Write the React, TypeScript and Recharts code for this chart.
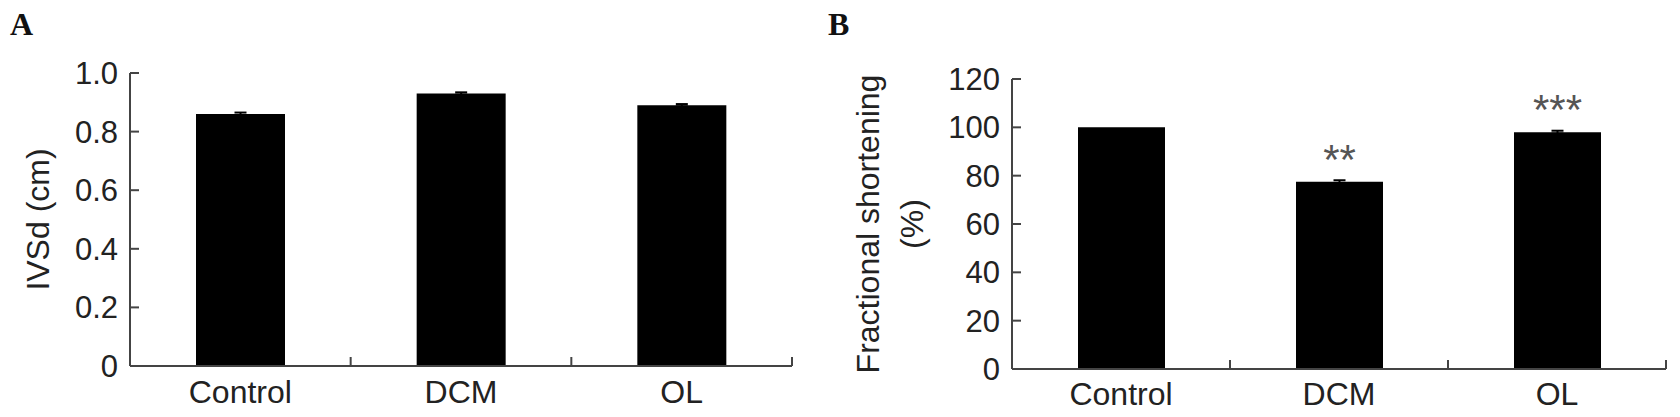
import React from 'react';
import { BarChart, Bar, XAxis, YAxis, ErrorBar, LabelList } from 'recharts';

const categories = ['Control', 'DCM', 'OL'];
const ivsdValues = [0.86, 0.93, 0.89];
const ivsdErrors = [0.005, 0.004, 0.004];
const fsValues = [100, 77.5, 98];
const fsErrors = [0, 0.6, 0.6];
const fsSignificance = ['', '**', '***'];
const ivsdTicks = [0, 0.2, 0.4, 0.6, 0.8, 1.0];
const fsTicks = [0, 20, 40, 60, 80, 100, 120];

const dataA = categories.map((c, i) => ({ name: c, value: ivsdValues[i], err: ivsdErrors[i] }));
const dataB = categories.map((c, i) => ({ name: c, value: fsValues[i], err: fsErrors[i], sig: fsSignificance[i] }));

const FONT = '"Liberation Sans", Arial, sans-serif';
const AXIS = '#444';

const makeYTick = (fmt: (v: number) => string) => (props: any) => {
  const { x, y, payload } = props;
  return (
    <g>
      <line x1={x + 12} x2={x + 21} y1={y} y2={y} stroke={AXIS} strokeWidth={2} />
      <text x={x} y={y} dy="0.355em" textAnchor="end" fontFamily={FONT} fontSize={31} fill="#222">
        {fmt(payload.value)}
      </text>
    </g>
  );
};

const makeXTick = (band: number, below: number) => (props: any) => {
  const { x, y, payload } = props;
  return (
    <g>
      <line x1={x + band / 2} x2={x + band / 2} y1={y} y2={y - 9} stroke={AXIS} strokeWidth={2} />
      <text x={x} y={y + below} textAnchor="middle" fontFamily={FONT} fontSize={32} fill="#222">
        {payload.value}
      </text>
    </g>
  );
};

const A_W = 820, A_H = 417, A_YW = 130, A_MR = 28;
const B_W = 860, B_H = 417, B_YW = 192, B_MR = 14;
const A_BAND = (A_W - A_YW - A_MR) / categories.length;
const B_BAND = (B_W - B_YW - B_MR) / categories.length;

export default function App() {
  return (
    <div style={{ position: 'absolute', left: 0, top: 0, width: 1680, height: 417, background: '#fff' }}>
      <div style={{ position: 'absolute', left: 0, top: 0 }}>
        <BarChart width={A_W} height={A_H} data={dataA} margin={{ top: 73, right: A_MR, bottom: 0, left: 0 }}>
          <text x={10} y={35} fontFamily='"Liberation Serif", "Times New Roman", serif' fontWeight="bold" fontSize={32} fill="#111">A</text>
          <XAxis
            dataKey="name"
            height={51}
            tickSize={0}
            tickMargin={0}
            tickLine={false}
            axisLine={{ stroke: AXIS, strokeWidth: 2 }}
            tick={makeXTick(A_BAND, 37)}
            interval={0}
          />
          <YAxis
            width={A_YW}
            domain={[0, 1]}
            ticks={ivsdTicks}
            tickSize={0}
            tickMargin={12}
            tickLine={false}
            axisLine={{ stroke: AXIS, strokeWidth: 2 }}
            tick={makeYTick((v) => (v === 0 ? '0' : v.toFixed(1)))}
            label={{
              content: (p: any) => {
                const vb = p.viewBox;
                const cy = vb.y + vb.height / 2;
                return (
                  <text transform={`translate(49, ${cy}) rotate(-90)`} textAnchor="middle" fontFamily={FONT} fontSize={32} fill="#222">
                    IVSd (cm)
                  </text>
                );
              },
            }}
          />
          <Bar dataKey="value" fill="#000" barSize={89} isAnimationActive={false}>
            <ErrorBar dataKey="err" direction="y" width={6} stroke="#000" strokeWidth={2} />
          </Bar>
        </BarChart>
      </div>
      <div style={{ position: 'absolute', left: 820, top: 0 }}>
        <BarChart width={B_W} height={B_H} data={dataB} margin={{ top: 79, right: B_MR, bottom: 0, left: 0 }}>
          <text x={8} y={35} fontFamily='"Liberation Serif", "Times New Roman", serif' fontWeight="bold" fontSize={32} fill="#111">B</text>
          <XAxis
            dataKey="name"
            height={48}
            tickSize={0}
            tickMargin={0}
            tickLine={false}
            axisLine={{ stroke: AXIS, strokeWidth: 2 }}
            tick={makeXTick(B_BAND, 36)}
            interval={0}
          />
          <YAxis
            width={B_YW}
            domain={[0, 120]}
            ticks={fsTicks}
            tickSize={0}
            tickMargin={12}
            tickLine={false}
            axisLine={{ stroke: AXIS, strokeWidth: 2 }}
            tick={makeYTick((v) => String(v))}
            label={{
              content: (p: any) => {
                const vb = p.viewBox;
                const cy = vb.y + vb.height / 2;
                return (
                  <g>
                    <text transform={`translate(59, ${cy}) rotate(-90)`} textAnchor="middle" fontFamily={FONT} fontSize={32} fill="#222">
                      Fractional shortening
                    </text>
                    <text transform={`translate(103, ${cy}) rotate(-90)`} textAnchor="middle" fontFamily={FONT} fontSize={32} fill="#222">
                      (%)
                    </text>
                  </g>
                );
              },
            }}
          />
          <Bar dataKey="value" fill="#000" barSize={87} isAnimationActive={false}>
            <ErrorBar dataKey="err" direction="y" width={6} stroke="#000" strokeWidth={2} />
            <LabelList
              dataKey="sig"
              content={(p: any) => {
                const { x, y, width, value } = p;
                if (!value) return null;
                return (
                  <text x={x + width / 2} y={y - 8} textAnchor="middle" fontFamily={FONT} fontSize={42} fill="#555">
                    {value}
                  </text>
                );
              }}
            />
          </Bar>
        </BarChart>
      </div>
    </div>
  );
}
